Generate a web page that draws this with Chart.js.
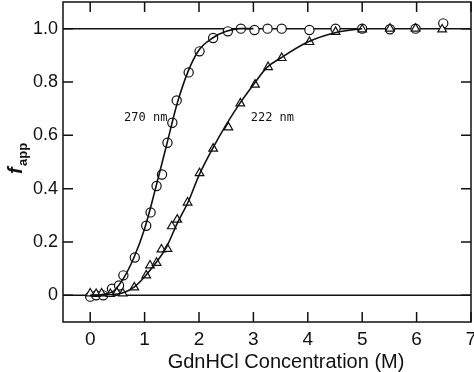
<!DOCTYPE html>
<html>
<head>
<meta charset="utf-8">
<script src="https://cdn.jsdelivr.net/npm/chart.js@4/dist/chart.umd.min.js"></script>
<style>
  html, body { margin: 0; padding: 0; background: #fff; }
  #wrap { width: 474px; height: 372px; }
</style>
</head>
<body>
<div id="wrap"><canvas id="chart"></canvas></div>
<script>
// data
var xTicks = [0, 1, 2, 3, 4, 5, 6, 7];
var yTicks = [0, 0.2, 0.4, 0.6, 0.8, 1.0];

// 270 nm (circles)
var x270 = [0, 0.11, 0.24, 0.40, 0.53, 0.61, 0.82, 1.03, 1.11, 1.22, 1.32, 1.42, 1.51, 1.59, 1.81, 2.01, 2.26, 2.53, 2.77, 3.02, 3.26, 3.52, 4.03, 4.51, 5.0, 5.51, 5.98, 6.49];
var y270 = [-0.005, 0, 0, 0.025, 0.037, 0.075, 0.142, 0.261, 0.311, 0.41, 0.453, 0.572, 0.647, 0.731, 0.836, 0.915, 0.965, 0.99, 1.0, 0.995, 1.0, 1.0, 0.995, 1.0, 1.0, 0.998, 1.0, 1.02];

// 222 nm (triangles)
var x222 = [0, 0.11, 0.21, 0.37, 0.49, 0.60, 0.81, 1.03, 1.10, 1.22, 1.31, 1.42, 1.50, 1.60, 1.79, 2.01, 2.26, 2.54, 2.76, 3.03, 3.27, 3.52, 4.03, 4.51, 5.0, 5.51, 5.98, 6.47];
var y222 = [0.007, 0.005, 0.007, 0.005, 0.01, 0.007, 0.03, 0.075, 0.112, 0.122, 0.172, 0.174, 0.259, 0.284, 0.348, 0.458, 0.55, 0.63, 0.72, 0.79, 0.856, 0.89, 0.95, 0.988, 0.997, 1.0, 1.0, 0.997];

// fitted curves
var fitX270 = [0, 0.4, 0.6, 0.8, 1.0, 1.2, 1.4, 1.6, 1.8, 2.0, 2.25, 2.5, 2.75, 3.0];
var fitY270 = [0, 0.012, 0.06, 0.14, 0.25, 0.40, 0.56, 0.72, 0.84, 0.92, 0.965, 0.99, 1.0, 1.0];
var fitX222 = [0, 0.5, 0.8, 1.0, 1.2, 1.4, 1.6, 1.8, 2.0, 2.25, 2.5, 2.75, 3.0, 3.25, 3.5, 4.0, 4.5, 5.0];
var fitY222 = [0, 0.005, 0.03, 0.07, 0.12, 0.18, 0.27, 0.35, 0.45, 0.55, 0.64, 0.72, 0.79, 0.855, 0.89, 0.95, 0.985, 1.0];

function pts(xs, ys) {
    return xs.map(function(x, i) { return { x: x, y: ys[i] }; });
}

var FONT = '"Liberation Sans", Arial, Helvetica, sans-serif';

// frame, inward ticks, baseline lines, labels
var framePlugin = {
    id: 'frame',
    beforeDatasetsDraw: function(chart) {
        var ctx = chart.ctx, a = chart.chartArea;
        var ys = chart.scales.y;
        ctx.save();
        ctx.strokeStyle = '#111';
        ctx.lineWidth = 1.5;
        ctx.beginPath();
        [0, 1].forEach(function(v) {
            var py = ys.getPixelForValue(v);
            ctx.moveTo(a.left, py);
            ctx.lineTo(a.right, py);
        });
        ctx.stroke();
        ctx.restore();
    },
    afterDraw: function(chart) {
        var ctx = chart.ctx, a = chart.chartArea;
        var xs = chart.scales.x, ys = chart.scales.y;
        var len = 10;
        ctx.save();
        ctx.strokeStyle = '#111';
        ctx.lineWidth = 1.5;
        ctx.strokeRect(a.left, a.top, a.right - a.left, a.bottom - a.top);
        ctx.beginPath();
        xTicks.forEach(function(v) {
            var px = xs.getPixelForValue(v);
            ctx.moveTo(px, a.bottom); ctx.lineTo(px, a.bottom - len);
            ctx.moveTo(px, a.top); ctx.lineTo(px, a.top + len);
        });
        yTicks.forEach(function(v) {
            var py = ys.getPixelForValue(v);
            ctx.moveTo(a.left, py); ctx.lineTo(a.left + len, py);
            ctx.moveTo(a.right, py); ctx.lineTo(a.right - len, py);
        });
        ctx.stroke();

        // curve labels
        ctx.fillStyle = '#111';
        ctx.font = '12px "DejaVu Sans Mono", monospace';
        ctx.textBaseline = 'middle';
        ctx.textAlign = 'right';
        ctx.fillText('270 nm', xs.getPixelForValue(1.42), ys.getPixelForValue(0.665));
        ctx.textAlign = 'left';
        ctx.fillText('222 nm', xs.getPixelForValue(2.95), ys.getPixelForValue(0.665));

        // x axis title (sits right of centre in the original)
        ctx.font = '20px ' + FONT;
        ctx.textAlign = 'center';
        ctx.textBaseline = 'middle';
        ctx.fillText('GdnHCl Concentration (M)', 286, 362);

        // y axis title: f_app
        ctx.translate(22, 174);
        ctx.rotate(-Math.PI / 2);
        ctx.textAlign = 'left';
        ctx.textBaseline = 'alphabetic';
        ctx.font = 'italic bold 20px ' + FONT;
        ctx.fillText('f', 0, 0);
        ctx.font = 'bold 13px ' + FONT;
        ctx.fillText('app', 8, 5);
        ctx.restore();
    }
};

var ctx = document.getElementById('chart').getContext('2d');
window.myChart = new Chart(ctx, {
    type: 'scatter',
    data: {
        datasets: [
            {
                label: '270 nm fit',
                data: pts(fitX270, fitY270),
                showLine: true,
                borderColor: '#111',
                borderWidth: 1.6,
                pointRadius: 0,
                cubicInterpolationMode: 'monotone'
            },
            {
                label: '222 nm fit',
                data: pts(fitX222, fitY222),
                showLine: true,
                borderColor: '#111',
                borderWidth: 1.6,
                pointRadius: 0,
                cubicInterpolationMode: 'monotone'
            },
            {
                label: '222 nm',
                data: pts(x222, y222),
                pointStyle: 'triangle',
                pointRadius: 5,
                pointBackgroundColor: '#fff',
                pointBorderColor: '#111',
                pointBorderWidth: 1.2
            },
            {
                label: '270 nm',
                data: pts(x270, y270),
                pointStyle: 'circle',
                pointRadius: 4.6,
                pointBackgroundColor: '#fff',
                pointBorderColor: '#111',
                pointBorderWidth: 1.2
            }
        ]
    },
    options: {
        responsive: true,
        maintainAspectRatio: false,
        animation: false,
        layout: { autoPadding: false, padding: { top: 2, right: 3, left: 0, bottom: 0 } },
        plugins: {
            legend: { display: false },
            tooltip: { enabled: false }
        },
        scales: {
            x: {
                type: 'linear',
                min: -0.5,
                max: 7,
                afterBuildTicks: function(scale) {
                    scale.ticks = xTicks.map(function(v) { return { value: v }; });
                },
                afterFit: function(scale) {
                    scale.height = 50;
                    scale.paddingLeft = 0;
                    scale.paddingRight = 0;
                },
                grid: { display: false, drawTicks: false },
                border: { display: false },
                ticks: {
                    color: '#111',
                    padding: 6,
                    maxRotation: 0,
                    font: { family: FONT, size: 19 }
                }
            },
            y: {
                type: 'linear',
                min: -0.1,
                max: 1.1,
                afterBuildTicks: function(scale) {
                    scale.ticks = yTicks.map(function(v) { return { value: v }; });
                },
                afterFit: function(scale) {
                    scale.width = 63;
                    scale.paddingTop = 0;
                    scale.paddingBottom = 0;
                },
                grid: { display: false, drawTicks: false },
                border: { display: false },
                ticks: {
                    color: '#111',
                    padding: 5,
                    font: { family: FONT, size: 18 },
                    callback: function(v) { return v === 0 ? '0' : v.toFixed(1); }
                }
            }
        }
    },
    plugins: [framePlugin]
});
</script>
</body>
</html>
